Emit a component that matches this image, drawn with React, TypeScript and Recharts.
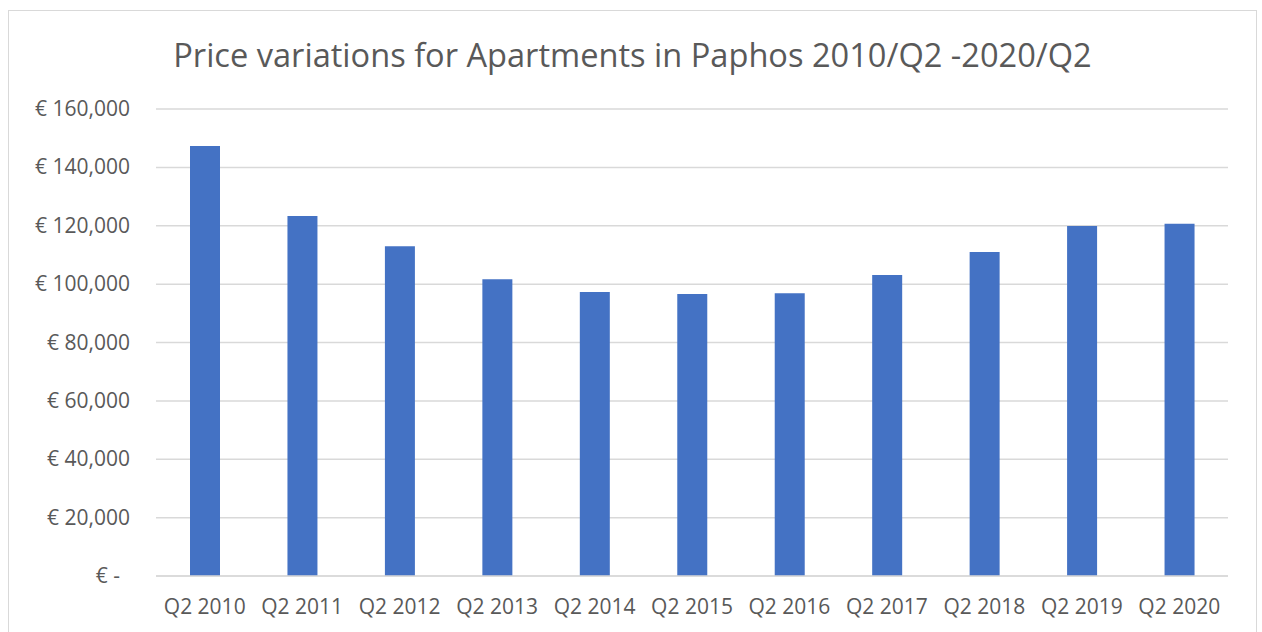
import React from "react";
import { BarChart, Bar, XAxis, YAxis, CartesianGrid } from "recharts";

const categories = ["Q2 2010", "Q2 2011", "Q2 2012", "Q2 2013", "Q2 2014", "Q2 2015", "Q2 2016", "Q2 2017", "Q2 2018", "Q2 2019", "Q2 2020"];
const prices = [147300, 123300, 113000, 101700, 97300, 96600, 96900, 103100, 111000, 119900, 120700];
const yTicks = [0, 20000, 40000, 60000, 80000, 100000, 120000, 140000, 160000];
const title = "Price variations for Apartments in Paphos 2010/Q2 -2020/Q2";

const data = categories.map((c, i) => ({ name: c, value: prices[i] }));

const FONT = "'Open Sans', sans-serif";
const TEXT = "#595959";

const fmt = (v: number) => (v === 0 ? "€ -" : "€ " + v.toLocaleString("en-US"));

const YTick = (props: any) => {
  const { x, y, payload } = props;
  const v = payload.value;
  return (
    <text x={v === 0 ? x - 10 : x} y={y} dy={7} textAnchor="end" fill={TEXT} fontSize={21} fontFamily={FONT}>
      {fmt(v)}
    </text>
  );
};

const XTick = (props: any) => {
  const { x, y, payload } = props;
  return (
    <text x={x} y={y} dy={30} textAnchor="middle" fill={TEXT} fontSize={21} fontFamily={FONT}>
      {payload.value}
    </text>
  );
};

export default function App() {
  return (
    <div
      style={{
        position: "absolute",
        left: 8,
        top: 10,
        width: 1247,
        height: 640,
        border: "1px solid #d9d9d9",
        background: "#fff",
      }}
    >
      <div
        style={{
          position: "absolute",
          left: 0,
          width: 1247,
          top: 22,
          textAlign: "center",
          fontFamily: FONT,
          fontSize: 32.6,
          color: TEXT,
          lineHeight: "44px",
        }}
      >
        {title}
      </div>
      <div style={{ position: "absolute", left: 0, top: 0 }}>
        <BarChart
          width={1247}
          height={621}
          data={data}
          margin={{ top: 98, right: 28, left: 0, bottom: 26 }}
          barSize={30}
        >
          <CartesianGrid vertical={false} stroke="#d9d9d9" strokeWidth={1.5} />
          <XAxis
            dataKey="name"
            axisLine={{ stroke: "#d9d9d9", strokeWidth: 1.5 }}
            tickLine={false}
            tick={<XTick />}
            height={30}
            interval={0}
          />
          <YAxis
            domain={[0, 160000]}
            ticks={yTicks}
            axisLine={false}
            tickLine={false}
            tick={<YTick />}
            width={147}
            tickMargin={20}
            interval={0}
          />
          <Bar dataKey="value" fill="#4472c4" isAnimationActive={false} />
        </BarChart>
      </div>
    </div>
  );
}
